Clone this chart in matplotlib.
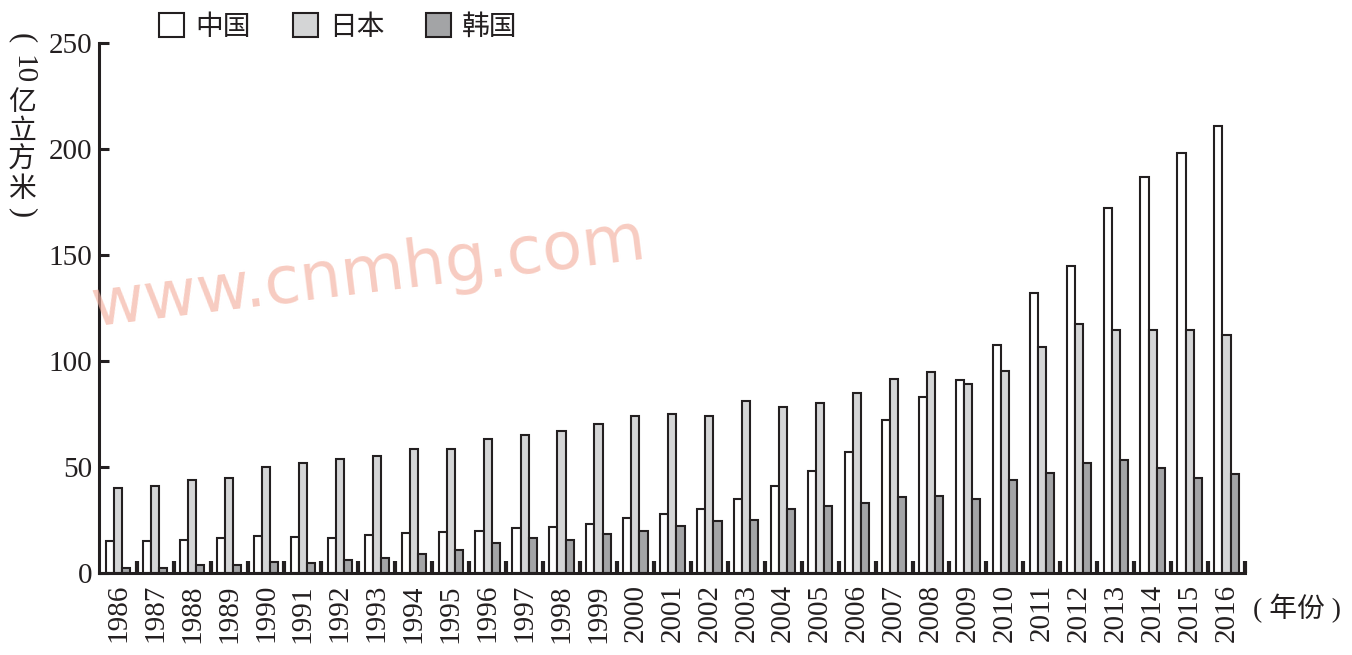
import matplotlib.pyplot as plt
import numpy as np

years = [str(y) for y in range(1986, 2017)]
china = [15, 15, 15.5, 16.5, 17.5, 17, 16.5, 18, 19, 19.5, 20, 21, 21.5, 23, 26, 28, 30, 35, 41, 48,
         57, 72, 83, 91, 107.5, 132, 145, 172, 187, 198, 211]
japan = [40, 41, 44, 45, 50, 52, 54, 55, 58.5, 58.5, 63, 65, 67, 70.5, 74, 75, 74, 81, 78.5, 80,
         85, 91.5, 95, 89, 95.5, 106.5, 117.5, 114.5, 114.5, 114.5, 112.5]
korea = [2.5, 2.5, 4, 4, 5, 4.5, 6, 7, 9, 11, 14, 16.5, 15.5, 18.5, 20, 22, 24.5, 25, 30, 31.5,
         33, 36, 36.5, 35, 44, 47, 52, 53.5, 49.5, 45, 46.5]
names = ['中国', '日本', '韩国']

ink = '#231f20'
serif = 'Liberation Serif'
cjk = ['Noto Sans CJK SC', 'DejaVu Sans']
mixed = ['Liberation Serif', 'Noto Sans CJK SC']

fig = plt.figure(figsize=(13.52, 6.55), dpi=100)
ax = fig.add_axes([99 / 1352, 82 / 655, 1146 / 1352, 530 / 655])

x = np.arange(len(years))
w = 0.22
lw = 1.5
ax.bar(x - w, china, w, color='white', edgecolor=ink, linewidth=lw, label=names[0])
ax.bar(x, japan, w, color='#d4d5d6', edgecolor=ink, linewidth=lw, label=names[1])
ax.bar(x + w, korea, w, color='#a3a4a6', edgecolor=ink, linewidth=lw, label=names[2])

ax.set_xlim(-0.52, len(years) - 0.5)
ax.set_ylim(0, 250)

for s in ['top', 'right']:
    ax.spines[s].set_visible(False)
for s in ['left', 'bottom']:
    ax.spines[s].set_linewidth(2.2)
    ax.spines[s].set_color(ink)

ax.set_yticks([0, 50, 100, 150, 200, 250])
ax.tick_params(axis='y', direction='in', length=7, width=2.2, color=ink, pad=5,
               labelsize=21, labelcolor=ink)
for t in ax.get_yticklabels():
    t.set_fontfamily(serif)

ax.set_xticks(x)
ax.set_xticklabels(years, rotation=90, fontfamily=serif, fontsize=21, color=ink)
ax.tick_params(axis='x', which='major', length=0, pad=8)
ax.set_xticks(x + 0.5, minor=True)
ax.tick_params(axis='x', which='minor', direction='in', length=9, width=3, color=ink)

leg = ax.legend(loc='upper left', bbox_to_anchor=(140 / 1352, 1.012), bbox_transform=fig.transFigure,
                ncol=3, frameon=False, prop={'family': cjk, 'size': 20},
                handlelength=0.9, handleheight=0.9, handletextpad=0.4, columnspacing=1.5,
                borderaxespad=0.3)
for t in leg.get_texts():
    t.set_color(ink)

# vertical unit label
lx = 22 / 1352
fig.text(lx, 1 - 38 / 655, '(', rotation=-90, fontfamily=serif, fontsize=22, color=ink,
         ha='center', va='center')
fig.text(lx, 1 - 70 / 655, '10', rotation=-90, fontfamily=serif, fontsize=21, color=ink,
         ha='center', va='center')
for k, ch in enumerate('亿立方米'):
    fig.text(lx, 1 - (102 + k * 29) / 655, ch, fontfamily=cjk, fontsize=20, color=ink,
             ha='center', va='center')
fig.text(lx, 1 - 212 / 655, ')', rotation=-90, fontfamily=serif, fontsize=22, color=ink,
         ha='center', va='center')

fig.text(1253 / 1352, 1 - 608 / 655, '( 年份 )', fontfamily=mixed, fontsize=20, color=ink,
         ha='left', va='center')

# watermark
fig.text(368 / 1352, 1 - 274 / 655, 'www.cnmhg.com', fontfamily='DejaVu Sans', fontsize=47,
         color='#f4b0a0', alpha=0.65, rotation=7, ha='center', va='center')

fig.savefig('out.png', dpi=100)
